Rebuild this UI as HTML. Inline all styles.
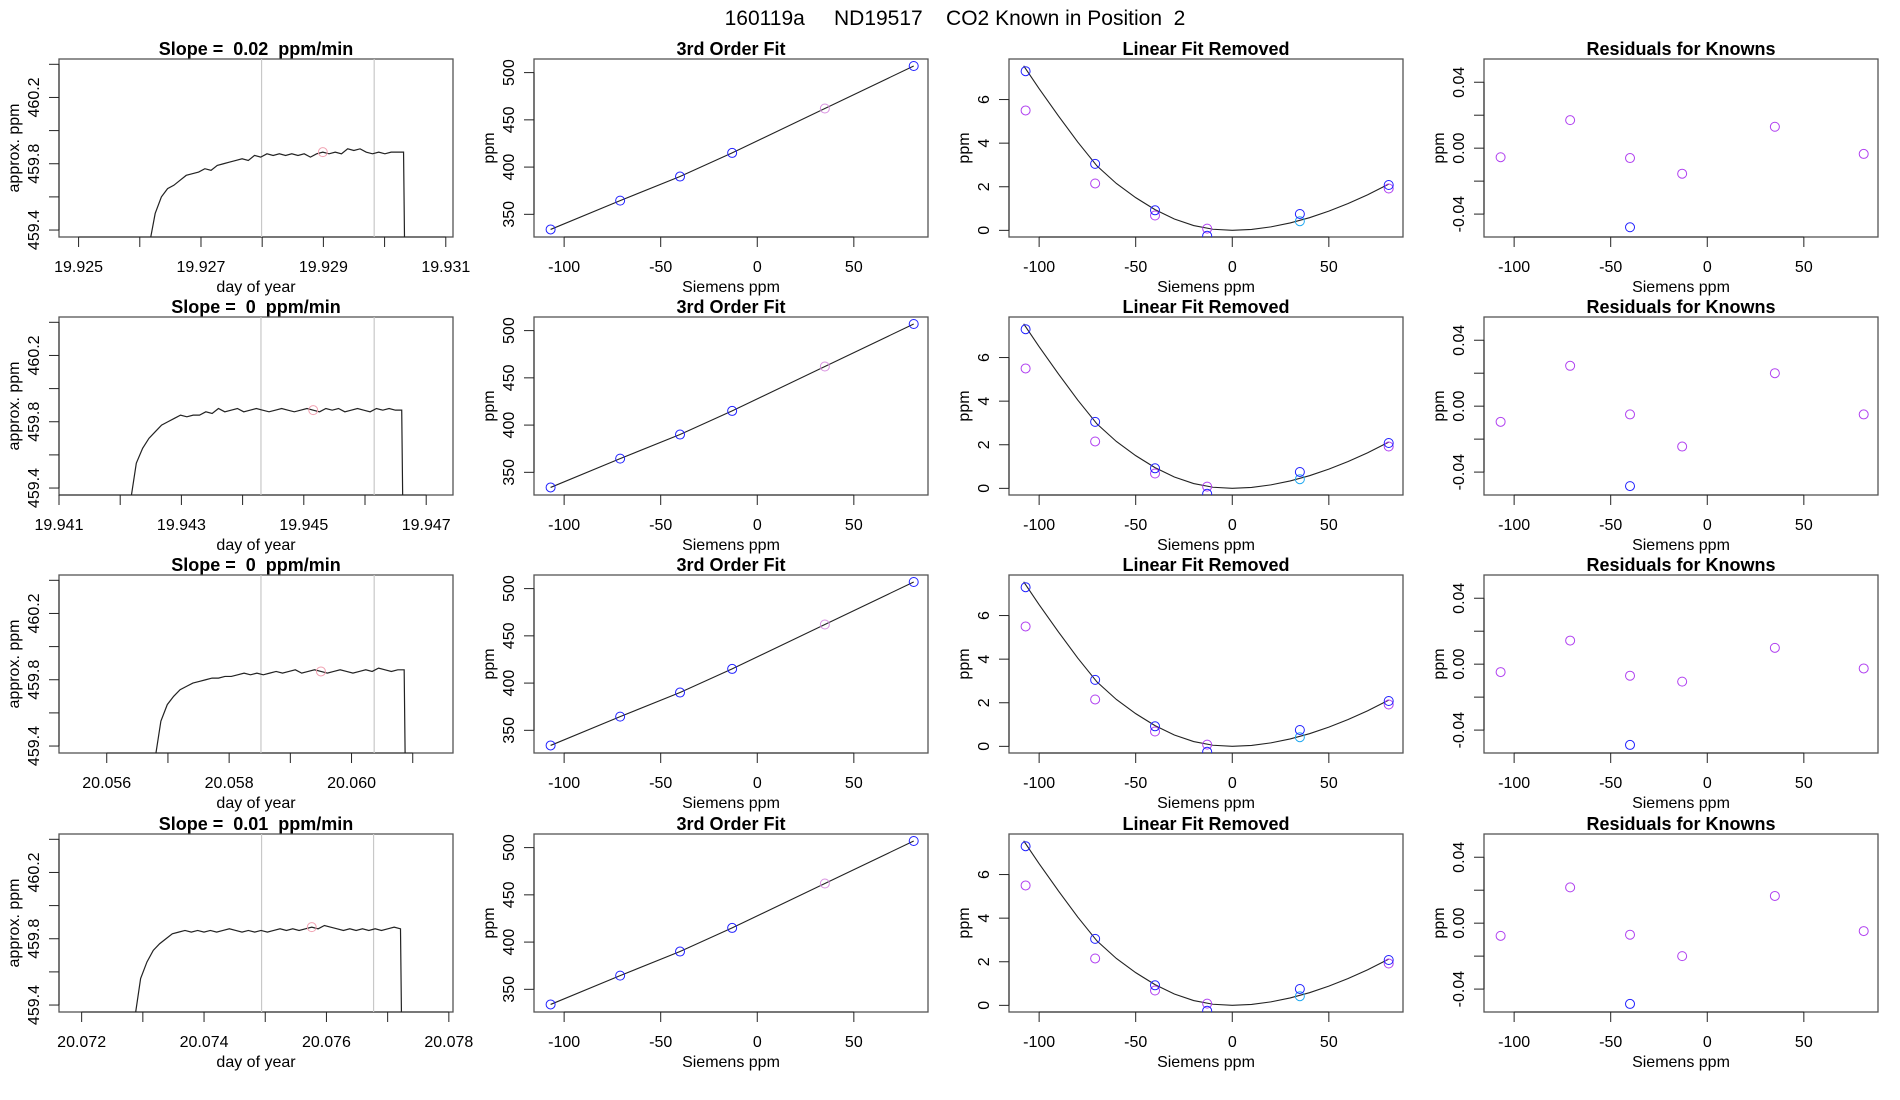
<!DOCTYPE html>
<html><head><meta charset="utf-8">
<style>
html,body{margin:0;padding:0;background:#fff;}
svg{display:block;font-family:"Liberation Sans",Arial,sans-serif;}
text{white-space:pre;}
</style></head>
<body>
<svg id="chart" width="1900" height="1100" viewBox="0 0 1900 1100">
<text x="955" y="25" text-anchor="middle" font-size="21">160119a     ND19517    CO2 Known in Position  2</text>
</svg>
<script>
// ---- data ----
const slopeLabels = ["0.02", "0", "0", "0.01"];
const tsXlimLeft = [19.92468, 19.941, 20.05522, 20.07163];
const tsStart = [19.92615, 19.94216, 20.05678, 20.07286];
const tsEnd = [19.93031, 19.9466, 20.06086, 20.07721];
const tsGray1 = [19.92799, 19.9443, 20.05852, 20.07494];
const tsGray2 = [19.92983, 19.94615, 20.06037, 20.07677];
const tsTickStart = [19.925, 19.941, 20.056, 20.072];
const tsValues = [
 [459.30,459.50,459.60,459.65,459.67,459.70,459.73,459.74,459.75,459.77,459.76,459.79,459.80,459.81,459.82,459.83,459.82,459.85,459.84,459.86,459.85,459.86,459.85,459.86,459.85,459.86,459.84,459.86,459.87,459.86,459.87,459.86,459.89,459.88,459.89,459.87,459.86,459.87,459.86,459.87,459.87,459.87],
 [459.30,459.55,459.64,459.70,459.74,459.78,459.80,459.82,459.84,459.83,459.84,459.84,459.86,459.85,459.88,459.86,459.87,459.88,459.86,459.87,459.88,459.87,459.86,459.87,459.88,459.87,459.86,459.87,459.88,459.87,459.86,459.88,459.87,459.88,459.86,459.87,459.88,459.87,459.86,459.88,459.87,459.88,459.87,459.87],
 [459.30,459.55,459.65,459.70,459.74,459.76,459.78,459.79,459.80,459.81,459.81,459.82,459.82,459.83,459.84,459.83,459.84,459.83,459.84,459.85,459.84,459.85,459.86,459.84,459.85,459.86,459.85,459.84,459.85,459.86,459.85,459.84,459.85,459.86,459.85,459.87,459.86,459.85,459.86,459.86],
 [459.30,459.56,459.66,459.73,459.77,459.80,459.83,459.84,459.85,459.84,459.85,459.84,459.85,459.84,459.85,459.86,459.85,459.84,459.85,459.84,459.85,459.84,459.85,459.86,459.85,459.86,459.85,459.86,459.87,459.86,459.88,459.87,459.86,459.85,459.86,459.85,459.86,459.85,459.86,459.85,459.86,459.87,459.86]
];
const knownX = [-107, -71, -40, -13, 35, 81];
const fitY = [334, 364.5, 390, 415, 462, 507];
const fitColors = ["blue","blue","blue","blue","pink","blue"];
const linBlue = [7.3, 3.05, 0.92, -0.25, 0.75, 2.08];
const linViolet = [5.5, 2.15, 0.68, 0.08, 0.42, 1.92];
const curveX = [-108,-100,-90,-80,-70,-60,-50,-40,-30,-20,-10,0,10,20,30,40,50,60,70,81];
const curveY = [7.55,6.5,5.25,4.05,2.95,2.15,1.5,0.95,0.52,0.22,0.05,0.0,0.04,0.16,0.34,0.58,0.88,1.23,1.63,2.12];
const residViolet = [
 [-0.0055, 0.017, -0.006, -0.0155, 0.013, -0.0035],
 [-0.0095, 0.0245, -0.005, -0.0245, 0.02, -0.005],
 [-0.0048, 0.0143, -0.007, -0.0106, 0.0099, -0.0026],
 [-0.0077, 0.0217, -0.007, -0.020, 0.0165, -0.0048]
];
const residBlue = [-0.048, -0.0485, -0.049, -0.049];

// ---- layout ----
const NS = "http://www.w3.org/2000/svg";
const svg = document.getElementById("chart");
const colLeft = [59, 534, 1009, 1484], W = 394;
const rowTop = [59, 317, 575, 834], H = 178;
const VIOLET = "#b040f0", BLUE = "#2020ff", PINK = "#d890e0", CYAN = "#20a8f0";

function mk(tag, attrs, parent) {
  const e = document.createElementNS(NS, tag);
  for (const k in attrs) e.setAttribute(k, attrs[k]);
  (parent || svg).appendChild(e);
  return e;
}
function scale(d0, d1, r0, r1) { return v => r0 + (v - d0) / (d1 - d0) * (r1 - r0); }

function panel(L, T, xlim, ylim, title, xlab, ylab, xticks, xlabels, yticks, ylabels, name) {
  const g = mk("g", {});
  
  
  const sx = scale(xlim[0], xlim[1], L, L + W), sy = scale(ylim[0], ylim[1], T + H, T);
  const t = mk("text", {x: L + W / 2, y: T - 4, "text-anchor": "middle", "font-size": 18, "font-weight": "bold"}, g);
  t.textContent = title;
  
  
  const box = mk("rect", {x: L, y: T, width: W, height: H, fill: "none", stroke: "#555", "stroke-width": 1.3}, g);
  
  
  const xa = mk("g", {}, g);
  
  
  mk("line", {x1: sx(xticks[0]), x2: sx(xticks[xticks.length - 1]), y1: T + H, y2: T + H, stroke: "#222"}, xa);
  xticks.forEach((v, i) => {
    mk("line", {x1: sx(v), x2: sx(v), y1: T + H, y2: T + H + 10, stroke: "#222"}, xa);
    if (xlabels[i] !== "") {
      const tl = mk("text", {x: sx(v), y: T + H + 35, "text-anchor": "middle", "font-size": 16}, xa);
      tl.textContent = xlabels[i];
      
      
    }
  });
  const xl = mk("text", {x: L + W / 2, y: T + H + 55, "text-anchor": "middle", "font-size": 16}, g);
  xl.textContent = xlab;
  
  
  const ya = mk("g", {}, g);
  
  
  mk("line", {x1: L, x2: L, y1: sy(yticks[0]), y2: sy(yticks[yticks.length - 1]), stroke: "#222"}, ya);
  yticks.forEach((v, i) => {
    mk("line", {x1: L - 10, x2: L, y1: sy(v), y2: sy(v), stroke: "#222"}, ya);
    if (ylabels[i] !== "") {
      const tl = mk("text", {x: L - 20, y: sy(v), "text-anchor": "middle", "font-size": 16, transform: `rotate(-90 ${L - 20} ${sy(v)})`}, ya);
      tl.textContent = ylabels[i];
      
      
    }
  });
  const yl = mk("text", {x: L - 40, y: T + H / 2, "text-anchor": "middle", "font-size": 16, transform: `rotate(-90 ${L - 40} ${T + H / 2})`}, g);
  yl.textContent = ylab;
  
  
  const clipId = "c" + Math.round(L) + "_" + Math.round(T);
  const cp = mk("clipPath", {id: clipId}, g);
  mk("rect", {x: L, y: T, width: W, height: H}, cp);
  const plot = mk("g", {"clip-path": `url(#${clipId})`}, g);
  return {sx, sy, plot};
}

function circle(p, x, y, color, name) {
  const c = mk("circle", {cx: p.sx(x), cy: p.sy(y), r: 4.5, fill: "none", stroke: color, "stroke-width": 1}, p.plot);
  
  
}

for (let r = 0; r < 4; r++) {
  const T = rowTop[r];
  // ---- time series ----
  const x0 = tsXlimLeft[r], x1 = x0 + 394 / 61200;
  const xt = [], xlb = [];
  for (let k = -1; k <= 7; k++) {
    const v = +(tsTickStart[r] + k * 0.001).toFixed(3);
    if (v >= x0 - 1e-7 && v <= x1 + 1e-7) { xt.push(v); xlb.push(Math.round((v - tsTickStart[r]) * 1000) % 2 === 0 ? v.toFixed(3) : ""); }
  }
  const p1 = panel(colLeft[0], T, [x0, x1], [459.358, 460.432], "Slope =  " + slopeLabels[r] + "  ppm/min", "day of year", "approx. ppm",
    xt, xlb, [459.4, 459.6, 459.8, 460.0, 460.2, 460.4], ["459.4", "", "459.8", "", "460.2", ""], "time-series-panel-" + (r + 1));
  [tsGray1[r], tsGray2[r]].forEach(v => {
    const gl = mk("line", {x1: p1.sx(v), x2: p1.sx(v), y1: T, y2: T + H, stroke: "#c8c8c8", "stroke-width": 1.2}, p1.plot);
    
    
  });
  const vals = tsValues[r], n = vals.length;
  const pts = vals.map((v, i) => [p1.sx(tsStart[r] + (tsEnd[r] - tsStart[r]) * i / (n - 1)), p1.sy(v)]);
  pts.push([p1.sx(tsEnd[r] + 0.00002), p1.sy(459.2)]);
  const pl = mk("polyline", {points: pts.map(q => q.join(",")).join(" "), fill: "none", stroke: "#222", "stroke-width": 1.2}, p1.plot);
  
  
  const mid = Math.round(n * 0.66);
  circle(p1, tsStart[r] + (tsEnd[r] - tsStart[r]) * mid / (n - 1), vals[mid], "#f0a0b0", "mean-marker");

  // ---- 3rd order fit ----
  const xk = [-100, -50, 0, 50], xkl = ["-100", "-50", "0", "50"];
  const p2 = panel(colLeft[1], T, [-115.6, 88.4], [326, 514.4], "3rd Order Fit", "Siemens ppm", "ppm",
    xk, xkl, [350, 400, 450, 500], ["350", "400", "450", "500"], "third-order-fit-panel-" + (r + 1));
  const fl = mk("polyline", {points: knownX.map((x, i) => p2.sx(x) + "," + p2.sy(fitY[i])).join(" "), fill: "none", stroke: "#222", "stroke-width": 1.1}, p2.plot);
  
  
  knownX.forEach((x, i) => circle(p2, x, fitY[i], fitColors[i] === "pink" ? PINK : BLUE, "known-point"));

  // ---- linear fit removed ----
  const p3 = panel(colLeft[2], T, [-115.6, 88.4], [-0.305, 7.86], "Linear Fit Removed", "Siemens ppm", "ppm",
    xk, xkl, [0, 2, 4, 6], ["0", "2", "4", "6"], "linear-fit-removed-panel-" + (r + 1));
  const cl = mk("polyline", {points: curveX.map((x, i) => p3.sx(x) + "," + p3.sy(curveY[i])).join(" "), fill: "none", stroke: "#222", "stroke-width": 1.1}, p3.plot);
  
  
  knownX.forEach((x, i) => circle(p3, x, linViolet[i], i === 4 ? CYAN : VIOLET, "known-point-violet"));
  knownX.forEach((x, i) => circle(p3, x, linBlue[i], BLUE, "known-point-blue"));

  // ---- residuals ----
  const p4 = panel(colLeft[3], T, [-115.6, 88.4], [-0.0539, 0.0541], "Residuals for Knowns", "Siemens ppm", "ppm",
    xk, xkl, [-0.04, -0.02, 0, 0.02, 0.04], ["-0.04", "", "0.00", "", "0.04"], "residuals-panel-" + (r + 1));
  knownX.forEach((x, i) => circle(p4, x, residViolet[r][i], VIOLET, "residual-point"));
  circle(p4, knownX[2], residBlue[r], BLUE, "residual-point-blue");
}
</script>
</body></html>
